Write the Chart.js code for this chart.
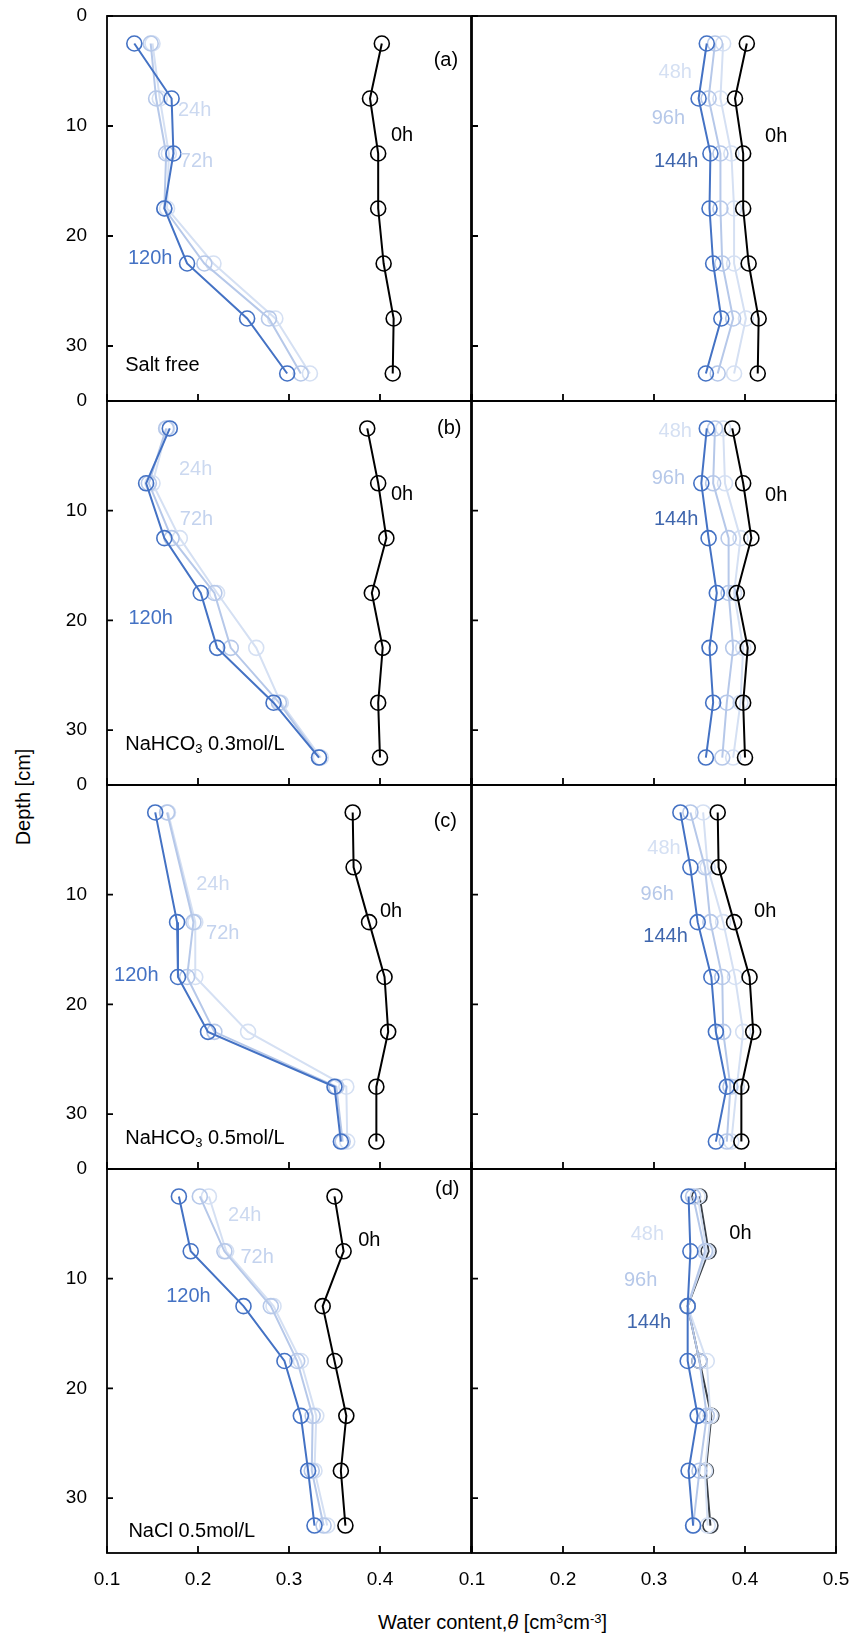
<!DOCTYPE html>
<html lang="en">
<head>
<meta charset="UTF-8">
<title>Water content profiles</title>
<script src="https://cdn.jsdelivr.net/npm/chart.js"></script>
<style>
  body { margin: 0; background: #fff; font-family: "Liberation Sans", Arial, sans-serif; }
  #wrap { position: relative; width: 855px; height: 1639px; overflow: hidden; }
  canvas { position: absolute; }
  .title { position: absolute; font-size: 20px; line-height: 24px; color: #000; white-space: nowrap; }
  .title sup { font-size: 13px; vertical-align: 6px; line-height: 0; }
  #xTitle { left: 378px; top: 1610px; }
  #yTitle { left: 23px; top: 797px; transform: translate(-50%, -50%) rotate(-90deg); }
</style>
</head>
<body>
<div id="wrap">
  <div class="title" id="xTitle">Water content,<i>θ</i> [cm<sup>3</sup>cm<sup>-3</sup>]</div>
  <div class="title" id="yTitle">Depth [cm]</div>
</div>
<script>
const depth = [2.5, 7.5, 12.5, 17.5, 22.5, 27.5, 32.5];
const xTicks = [0.1, 0.2, 0.3, 0.4, 0.5];
const yTicks = [0, 10, 20, 30];

// (a) salt free
const a0h   = [0.402, 0.389, 0.398, 0.398, 0.404, 0.415, 0.414];
const a24h  = [0.150, 0.158, 0.168, 0.166, 0.217, 0.285, 0.323];
const a72h  = [0.148, 0.154, 0.165, 0.163, 0.207, 0.278, 0.313];
const a120h = [0.130, 0.171, 0.173, 0.163, 0.188, 0.254, 0.298];
const a48h  = [0.376, 0.373, 0.385, 0.388, 0.388, 0.401, 0.388];
const a96h  = [0.367, 0.360, 0.373, 0.373, 0.375, 0.387, 0.370];
const a144h = [0.358, 0.349, 0.362, 0.361, 0.365, 0.374, 0.357];

// (b) NaHCO3 0.3 mol/L
const b0h   = [0.386, 0.398, 0.407, 0.391, 0.403, 0.398, 0.400];
const b24h  = [0.166, 0.150, 0.180, 0.221, 0.264, 0.291, 0.335];
const b72h  = [0.165, 0.146, 0.171, 0.218, 0.236, 0.289, 0.333];
const b120h = [0.169, 0.143, 0.163, 0.203, 0.221, 0.283, 0.333];
const b48h  = [0.376, 0.378, 0.395, 0.388, 0.398, 0.395, 0.387];
const b96h  = [0.367, 0.365, 0.382, 0.382, 0.387, 0.380, 0.375];
const b144h = [0.358, 0.352, 0.360, 0.369, 0.361, 0.365, 0.357];

// (c) NaHCO3 0.5 mol/L  (no reading at 7.5 cm after wetting)
const c0h   = [0.370, 0.371, 0.388, 0.405, 0.409, 0.396, 0.396];
const c24h  = [0.167, null, 0.197, 0.197, 0.255, 0.363, 0.364];
const c72h  = [0.166, null, 0.195, 0.188, 0.218, 0.352, 0.359];
const c120h = [0.153, null, 0.177, 0.178, 0.211, 0.350, 0.357];
const c48h  = [0.354, 0.359, 0.376, 0.389, 0.398, 0.391, 0.385];
const c96h  = [0.340, 0.356, 0.362, 0.375, 0.376, 0.384, 0.380];
const c144h = [0.329, 0.340, 0.348, 0.363, 0.368, 0.380, 0.368];

// (d) NaCl 0.5 mol/L
const d0h   = [0.350, 0.360, 0.337, 0.350, 0.363, 0.357, 0.362];
const d24h  = [0.212, 0.231, 0.283, 0.313, 0.330, 0.328, 0.342];
const d72h  = [0.202, 0.229, 0.280, 0.309, 0.326, 0.325, 0.338];
const d120h = [0.179, 0.192, 0.250, 0.295, 0.313, 0.321, 0.328];
const d48h  = [0.348, 0.358, 0.337, 0.358, 0.362, 0.356, 0.359];
const d96h  = [0.343, 0.356, 0.337, 0.350, 0.358, 0.350, 0.343];
const d144h = [0.338, 0.340, 0.337, 0.337, 0.348, 0.338, 0.343];

const FONT = '"Liberation Sans", Arial, sans-serif';
Chart.defaults.font.family = FONT;

const cBlack = '#000000';
const cLight = '#D5E0F3';
const cMid = '#B6C8E9';
const cBlue = '#4472C4';

const rowTop = [16, 401, 785, 1169];
const rowBottom = [401, 785, 1169, 1553];
const colLeft = [107, 472];
const plotW = 364;

function series(vals, color, order) {
  return {
    data: vals.map((v, i) => ({ x: v, y: depth[i] })),
    borderColor: color,
    pointBorderColor: color,
    pointBackgroundColor: 'rgba(0,0,0,0)',
    borderWidth: 2,
    pointRadius: 7.5,
    pointBorderWidth: 1.6,
    showLine: true,
    spanGaps: true,
    order: order
  };
}

function sub(a, b, c) { return [[a, false], [b, true], [c, false]]; }

const panels = [
  { row: 0, col: 0, sets: [[a0h, cBlack, 0], [a120h, cBlue, 1], [a72h, cMid, 2], [a24h, cLight, 3]],
    notes: [['24h', 0.178, 8.6, '#CCD9F0'], ['72h', 0.180, 13.2, '#C4D3EE'], ['0h', 0.412, 10.85, cBlack],
            ['120h', 0.123, 22.0, cBlue], ['(a)', 0.459, 4.0, cBlack], ['Salt free', 0.120, 31.8, cBlack]] },
  { row: 0, col: 1, sets: [[a0h, cBlack, 0], [a144h, cBlue, 1], [a96h, cMid, 2], [a48h, cLight, 3]],
    notes: [['48h', 0.305, 5.1, '#D5E0F3'], ['96h', 0.2975, 9.33, '#B6C8E9'], ['144h', 0.300, 13.27, '#3F66AD'],
            ['0h', 0.422, 10.94, cBlack]] },
  { row: 1, col: 0, sets: [[b0h, cBlack, 0], [b120h, cBlue, 1], [b72h, cMid, 2], [b24h, cLight, 3]],
    notes: [['24h', 0.179, 6.2, '#CCD9F0'], ['72h', 0.180, 10.76, '#C4D3EE'], ['0h', 0.412, 8.55, cBlack],
            ['120h', 0.1235, 19.85, cBlue], ['(b)', 0.4627, 2.48, cBlack],
            [sub('NaHCO', '3', ' 0.3mol/L'), 0.120, 31.27, cBlack]] },
  { row: 1, col: 1, sets: [[b0h, cBlack, 0], [b144h, cBlue, 1], [b96h, cMid, 2], [b48h, cLight, 3]],
    notes: [['48h', 0.305, 2.79, '#D5E0F3'], ['96h', 0.2975, 7.03, '#B6C8E9'], ['144h', 0.300, 10.8, '#3F66AD'],
            ['0h', 0.422, 8.64, cBlack]] },
  { row: 2, col: 0, sets: [[c0h, cBlack, 0], [c120h, cBlue, 1], [c72h, cMid, 2], [c24h, cLight, 3]],
    notes: [['24h', 0.198, 9.03, '#CCD9F0'], ['72h', 0.2088, 13.55, '#C4D3EE'], ['0h', 0.400, 11.57, cBlack],
            ['120h', 0.1077, 17.4, cBlue], ['(c)', 0.459, 3.33, cBlack],
            [sub('NaHCO', '3', ' 0.5mol/L'), 0.120, 32.2, cBlack]] },
  { row: 2, col: 1, sets: [[c0h, cBlack, 0], [c144h, cBlue, 1], [c96h, cMid, 2], [c48h, cLight, 3]],
    notes: [['48h', 0.2927, 5.82, '#D5E0F3'], ['96h', 0.2853, 10.0, '#B6C8E9'], ['144h', 0.2883, 13.8, '#3F66AD'],
            ['0h', 0.410, 11.57, cBlack]] },
  { row: 3, col: 0, sets: [[d0h, cBlack, 0], [d120h, cBlue, 1], [d72h, cMid, 2], [d24h, cLight, 3]],
    notes: [['24h', 0.233, 4.27, '#CCD9F0'], ['72h', 0.2466, 8.1, '#C4D3EE'], ['0h', 0.376, 6.5, cBlack],
            ['120h', 0.165, 11.6, cBlue], ['(d)', 0.4605, 1.85, cBlack], ['NaCl 0.5mol/L', 0.1235, 33.05, cBlack]] },
  { row: 3, col: 1, sets: [[d0h, '#3A4048', 4], [d144h, cBlue, 1], [d96h, cMid, 2], [d48h, cLight, 3]],
    notes: [['48h', 0.2744, 6.0, '#D5E0F3'], ['96h', 0.267, 10.15, '#B6C8E9'], ['144h', 0.270, 14.0, '#3F66AD'],
            ['0h', 0.3828, 5.9, cBlack]] }
];

// box plus inward tick marks
const frame = {
  id: 'frame',
  beforeDatasetsDraw(chart) {
    const { ctx, chartArea: a, scales: { x, y } } = chart;
    ctx.save();
    ctx.strokeStyle = '#000';
    ctx.lineWidth = 1.8;
    ctx.beginPath();
    xTicks.forEach(v => {
      const px = x.getPixelForValue(v);
      ctx.moveTo(px, a.bottom); ctx.lineTo(px, a.bottom - 7);
    });
    yTicks.forEach(v => {
      const py = y.getPixelForValue(v);
      ctx.moveTo(a.left, py); ctx.lineTo(a.left + 6, py);
    });
    ctx.stroke();
    ctx.strokeRect(a.left, a.top, a.right - a.left, a.bottom - a.top);
    ctx.restore();
  }
};

function notesPlugin(notes) {
  return {
    id: 'notes',
    afterDatasetsDraw(chart) {
      const { ctx, scales: { x, y } } = chart;
      ctx.save();
      ctx.textAlign = 'left';
      ctx.textBaseline = 'middle';
      notes.forEach(([text, vx, vy, color]) => {
        let px = x.getPixelForValue(vx);
        const py = y.getPixelForValue(vy);
        ctx.fillStyle = color;
        const parts = Array.isArray(text) ? text : [[text, false]];
        parts.forEach(([t, isSub]) => {
          ctx.font = (isSub ? '13px ' : '20px ') + FONT;
          ctx.fillText(t, px, isSub ? py + 5 : py);
          px += ctx.measureText(t).width;
        });
      });
      ctx.restore();
    }
  };
}

const wrap = document.getElementById('wrap');

panels.forEach(p => {
  const bottomRow = p.row === 3;
  // the scales add tick padding to their label overflow, so leave room for it
  const padL = p.col === 0 ? 0 : 34;
  const yW = p.col === 0 ? 107 : 0;
  const padT = 36, padR = 34;
  const padB = bottomRow ? 10 : 36;
  const xH = bottomRow ? 50 : 0;
  const plotH = rowBottom[p.row] - rowTop[p.row];
  const w = padL + yW + plotW + padR;
  const h = padT + plotH + xH + padB;

  const cv = document.createElement('canvas');
  cv.width = w; cv.height = h;
  cv.style.left = (colLeft[p.col] - padL - yW) + 'px';
  cv.style.top = (rowTop[p.row] - padT) + 'px';
  cv.style.width = w + 'px';
  cv.style.height = h + 'px';
  wrap.appendChild(cv);

  new Chart(cv, {
    type: 'scatter',
    data: { datasets: p.sets.map(s => series(s[0], s[1], s[2])) },
    options: {
      responsive: false,
      devicePixelRatio: 1,
      animation: false,
      layout: { padding: { left: padL, right: padR, top: padT, bottom: padB } },
      plugins: { legend: { display: false }, tooltip: { enabled: false } },
      scales: {
        x: {
          type: 'linear', position: 'bottom', min: 0.1, max: 0.5,
          afterBuildTicks: s => { s.ticks = xTicks.map(v => ({ value: v })); },
          afterFit: s => { s.height = xH; },
          grid: { display: false, drawTicks: false },
          border: { display: false },
          ticks: {
            display: bottomRow, padding: 15, maxRotation: 0, autoSkip: false,
            color: '#000', font: { size: 19 },
            callback: v => (p.col === 0 && v === 0.5) ? '' : v.toFixed(1)
          }
        },
        y: {
          type: 'linear', reverse: true, min: 0, max: 35,
          afterBuildTicks: s => { s.ticks = yTicks.map(v => ({ value: v })); },
          afterFit: s => { s.width = yW; },
          grid: { display: false, drawTicks: false },
          border: { display: false },
          ticks: { display: p.col === 0, padding: 20, color: '#000', font: { size: 19 } }
        }
      }
    },
    plugins: [frame, notesPlugin(p.notes)]
  });
});
</script>
</body>
</html>
